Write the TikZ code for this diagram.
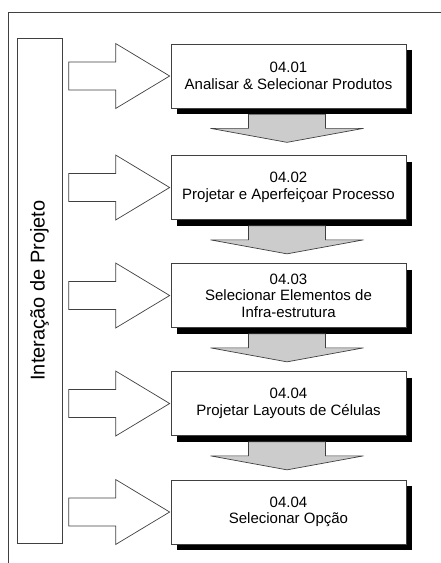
\documentclass[tikz,border=0pt]{standalone}
\usepackage{fontspec}
\setmainfont{Liberation Sans}
\usetikzlibrary{calc,shadows}
\newcommand{\sidearrow}[1]
{   \draw[arrowline, fill=white] ($(#1.west)+(-1,0)$) -- ++(-54,32.5) -- ++(0,-18.5) -- ++(-47,0)
        -- ++(0,-28) -- ++(47,0) -- ++(0,-18.5) -- cycle;
}
\newcommand{\grayarrow}[1]
{   \draw[arrowline, fill=\mygray] ($(#1.south)+(-40,-6)$) -- ++(0,-14) -- ++(-38,0)
        -- ($(#1.south)+(-1.5,-34)$) -- ($(#1.south)+(75,-20)$) -- ++(-38,0) -- ++(0,14) -- cycle;
}
\newcommand{\mygray}{black!20}
\tikzset{
  arrowline/.style={draw=black!75, line width=0.7pt},
  procbox/.style={arrowline, fill=white, minimum width=235, minimum height=64,
    align=center, font=\fontsize{15}{16.5}\selectfont,
    general shadow={fill=black, shadow xshift=6pt, shadow yshift=-6pt}}
}

\begin{document}
\begin{tikzpicture}[x=1pt,y=1pt]
 \useasboundingbox (0,0) rectangle (441,-563);
 \draw[arrowline] (441,-12) -- (8,-12) -- (8,-563);

 \node[arrowline, rotate=90, minimum width=505, minimum height=45,
   font=\fontsize{20}{24}\selectfont] (iter) at (39.5,-290.5) {Interação de Projeto};

 \node[procbox] (p1) at (288.5,-76) {04.01\\Analisar \& Selecionar Produtos};
 \node[procbox] (p2) at (288.5,-187.5) {04.02\\Projetar e Aperfeiçoar Processo};
 \node[procbox] (p3) at (288.5,-295.5) {04.03\\Selecionar Elementos de\\Infra-estrutura};
 \node[procbox] (p4) at (288.5,-403.5) {04.04\\Projetar Layouts de Células};
 \node[procbox] (p5) at (288.5,-512) {04.04\\Selecionar Opção};

 \foreach \p in {p1,p2,p3,p4,p5} {\sidearrow{\p}}
 \foreach \p in {p1,p2,p3,p4} {\grayarrow{\p}}

\end{tikzpicture}
\end{document}
